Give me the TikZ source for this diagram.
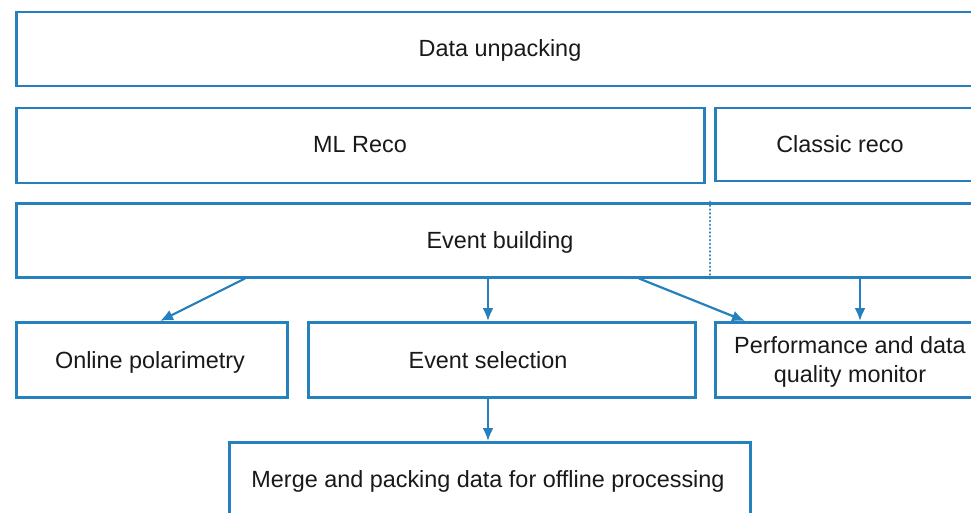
\documentclass[tikz,border=0pt]{standalone}
\usepackage{fontspec}
\setmainfont{Liberation Sans}
\usetikzlibrary{arrows.meta}
\definecolor{lineblue}{RGB}{38,128,190}
\definecolor{txt}{RGB}{25,25,25}
\begin{document}
\begin{tikzpicture}[x=1pt,y=-1pt,
 box/.style={draw=lineblue, line width=2.5pt, rectangle, inner sep=0pt, anchor=north west},
 lbl/.style={text=txt, font=\fontsize{23.4}{29}\selectfont, align=center, inner sep=0pt, anchor=base},
 arr/.style={draw=lineblue, line width=2.2pt, -{Latex[length=13pt,width=11pt]}},
 dotline/.style={draw=lineblue, line width=2.8pt, line cap=round, dash pattern=on 0.01pt off 3.8pt}]
\useasboundingbox (0,0) rectangle (971,513);
\clip (0,0) rectangle (971,513);
\fill[white] (0,0) rectangle (971,513);
% boxes
\node[box, minimum width=970pt, minimum height=74pt] (du) at (15,11) {};
\node[box, minimum width=688pt, minimum height=75pt] (ml) at (15,107) {};
\node[box, minimum width=270pt, minimum height=73pt] (cr) at (714,107) {};
\node[box, minimum width=970pt, minimum height=74pt] (eb) at (15,202) {};
\node[box, minimum width=271pt, minimum height=75pt] (op) at (15,321) {};
\node[box, minimum width=387pt, minimum height=75pt] (es) at (307,321) {};
\node[box, minimum width=270pt, minimum height=75pt] (pm) at (714,321) {};
\node[box, minimum width=521pt, minimum height=80pt] (mp) at (228,441) {};
% labels
\node[lbl] (tdu) at (500,57) {Data unpacking};
\node[lbl] (tml) at (360,153) {ML Reco};
\node[lbl] (tcr) at (840,153) {Classic reco};
\node[lbl] (teb) at (500,248) {Event building};
\node[lbl] (top) at (150,368) {Online polarimetry};
\node[lbl] (tes) at (488,368) {Event selection};
\node[lbl, anchor=center] (tpm) at (850,361.5) {Performance and data\\quality monitor};
\node[lbl] (tmp) at (488,487) {Merge and packing data for offline processing};
% dotted divider
\draw[dotline] (710,0 |- eb.north) -- (710,0 |- eb.south);
% arrows
\draw[arr] (245,0 |- eb.south) -- (160,0 |- op.north);
\draw[arr] (488,0 |- eb.south) -- (488,0 |- es.north);
\draw[arr] (639,0 |- eb.south) -- (745,0 |- pm.north);
\draw[arr] (860,0 |- eb.south) -- (860,0 |- pm.north);
\draw[arr] (488,0 |- es.south) -- (488,0 |- mp.north);
\end{tikzpicture}
\end{document}
